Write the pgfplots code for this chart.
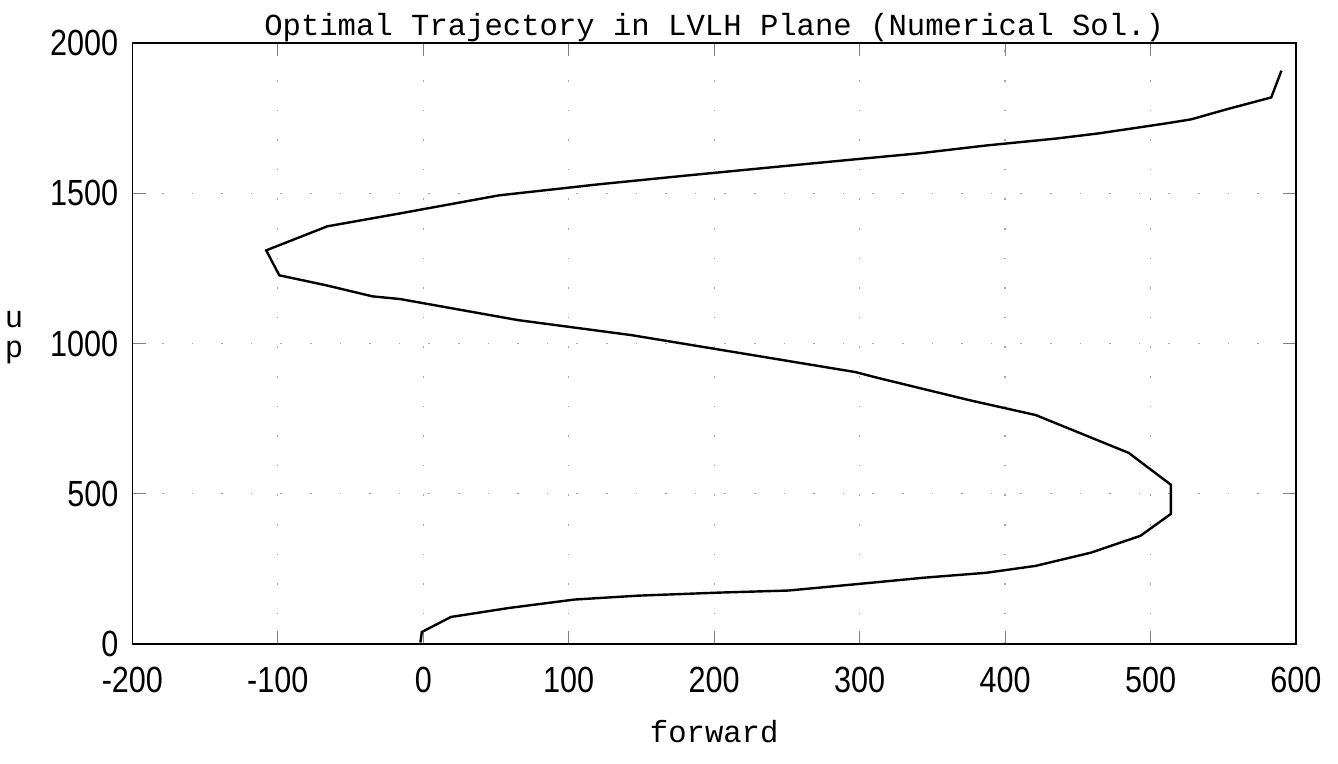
\documentclass[border=0pt]{standalone}
\usepackage{fontspec}
\usepackage{pgfplots}
\pgfplotsset{compat=1.18}
\setmainfont{Liberation Mono}
\newfontfamily\tickfont[FakeStretch=0.84]{Liberation Sans}
\begin{document}
\begin{tikzpicture}
\begin{axis}[
  scale only axis, width=290.9pt, height=150.25pt,
  at={(0,0)}, anchor=south west,
  xmin=-200, xmax=600, ymin=0, ymax=2000,
  xtick={-200,-100,...,600}, ytick={0,500,...,2000},
  /pgf/number format/assume math mode=true,
  /pgf/number format/1000 sep={},
  tick label style={font=\tickfont\fontsize{9.1}{10}\selectfont},
  xticklabel style={yshift=-2.3pt},
  yticklabel style={xshift=0pt},
  major tick length=3.3pt,
  grid=major,
  grid style={gray!70, line width=0.3pt, dash pattern=on 0.4pt off 7pt},
  xlabel={forward},
  xlabel style={font=\fontsize{7.65}{9}\selectfont, at={(0.5,0)}, anchor=base, yshift=-24.5pt},
  clip=false,
]
\addplot[black, line width=0.6pt] coordinates {
(-2,5) (-1,40) (19,90) (59,120) (104,148) (148,161) (203,171) (251,178)
(293,197) (345,221) (387,237) (421,260) (459,304) (493,360) (514,433)
(514,530) (485,636) (421,762) (375,812) (313,885) (297,905) (222,965)
(143,1028) (65,1078) (-16,1148) (-35,1157) (-67,1194) (-99,1227)
(-108,1310) (-66,1390) (-16,1433) (52,1493) (121,1530) (181,1559)
(245,1589) (297,1613) (341,1633) (387,1659) (435,1682) (464,1699)
(510,1732) (528,1746) (552,1779) (583,1819) (590,1908)
};
\node[font=\fontsize{7.65}{9}\selectfont, anchor=base, inner sep=0pt]
  at (rel axis cs:0.5,1) [yshift=2pt] {Optimal Trajectory in LVLH Plane (Numerical Sol.)};
\node[font=\fontsize{7.65}{7.5}\selectfont, align=center, anchor=center]
  at (rel axis cs:0,0.5) [xshift=-29.6pt, yshift=1.4pt] {u\\p};
\end{axis}
\pgfresetboundingbox
\path (-33.1pt,-29.75pt) rectangle (301.4pt,161pt);
\end{tikzpicture}
\end{document}
